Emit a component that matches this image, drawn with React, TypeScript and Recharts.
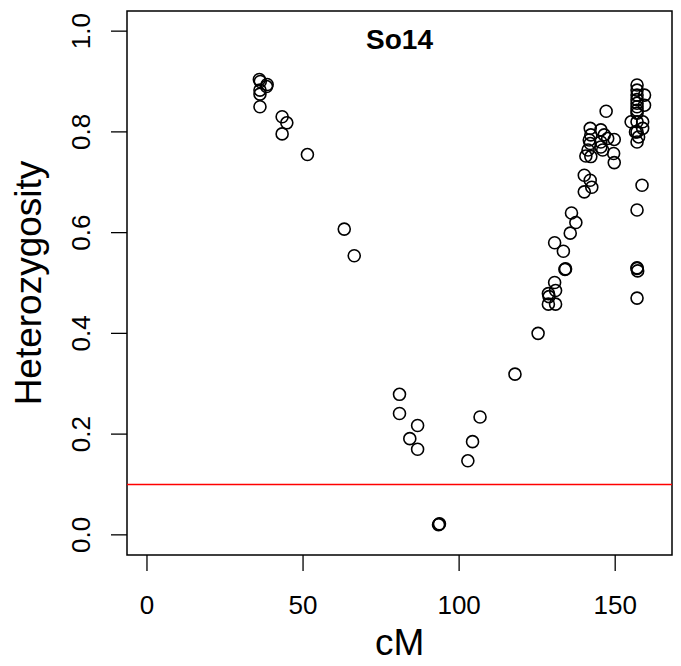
import React from 'react';
import {
    ScatterChart,
    Scatter,
    XAxis,
    YAxis,
    ReferenceLine,
    ReferenceArea,
    Label,
} from 'recharts';

// marker positions (cM) and heterozygosity
const cM = [
    36.0, 36.3, 38.5, 38.3, 36.2, 36.2, 36.2,
    43.3, 44.8, 43.3, 51.4,
    63.2, 66.4,
    80.9, 80.9, 86.7, 84.2, 86.7,
    93.6, 93.4, 93.7,
    102.8, 104.3, 106.7,
    117.9, 125.3,
    128.6, 130.9, 128.8, 128.6, 130.9, 130.6, 133.9, 134.1, 133.4, 130.6, 135.6, 137.4, 136.0,
    140.1, 140.1, 142.0, 142.5,
    142.0, 142.2, 141.7, 142.0, 141.3, 140.6, 142.2,
    145.4, 146.5, 145.4, 147.6, 149.7, 149.5, 149.7, 146.0, 145.4, 147.1,
    157.0, 157.0, 157.0, 157.0, 157.0, 157.0, 157.0, 157.0, 157.0, 157.0, 157.0,
    159.4, 159.4, 158.8, 155.1, 158.8, 156.5, 157.5,
    158.6, 157.0, 157.0, 157.2, 157.0, 157.0,
];
const het = [
    0.904, 0.900, 0.894, 0.890, 0.883, 0.875, 0.850,
    0.830, 0.818, 0.796, 0.755,
    0.607, 0.554,
    0.279, 0.241, 0.217, 0.191, 0.170,
    0.021, 0.020, 0.022,
    0.147, 0.185, 0.234,
    0.319, 0.400,
    0.458, 0.458, 0.473, 0.479, 0.485, 0.501, 0.527, 0.528, 0.563, 0.580, 0.599, 0.620, 0.639,
    0.681, 0.714, 0.704, 0.690,
    0.807, 0.794, 0.784, 0.777, 0.764, 0.752, 0.751,
    0.804, 0.794, 0.780, 0.787, 0.785, 0.757, 0.739, 0.764, 0.770, 0.841,
    0.893, 0.883, 0.873, 0.864, 0.857, 0.850, 0.843, 0.837, 0.820, 0.800, 0.780,
    0.873, 0.853, 0.820, 0.820, 0.807, 0.800, 0.790,
    0.694, 0.645, 0.529, 0.524, 0.530, 0.470,
];
const xTicks = [0, 50, 100, 150];
const yTicks = [0, 0.2, 0.4, 0.6, 0.8, 1.0];
const threshold = 0.1;
const title = 'So14';

const data = cM.map((x, i) => ({ cM: x, het: het[i] }));

const XDOMAIN: [number, number] = [-6.4, 168.2];
const YDOMAIN: [number, number] = [-0.04, 1.04];
const FONT = '"Liberation Sans", Arial, sans-serif';

const XTick = (props: any) => (
    <text x={props.x} y={614} textAnchor="middle" fontSize={26} fontFamily={FONT} fill="#000">
        {props.payload.value}
    </text>
);

const YTick = (props: any) => (
    <text
        x={90}
        y={props.y}
        textAnchor="middle"
        fontSize={26}
        fontFamily={FONT}
        fill="#000"
        transform={`rotate(-90, 90, ${props.y})`}
    >
        {props.payload.value.toFixed(1)}
    </text>
);

const Ring = (props: any) => (
    <circle cx={props.cx} cy={props.cy} r={6} fill="none" stroke="#000" strokeWidth={1.6} />
);

export default function App() {
    return (
        <div style={{ position: 'absolute', left: 0, top: 0, background: '#fff' }}>
            <ScatterChart
                width={681}
                height={666}
                margin={{ top: 11, right: 9, left: 0, bottom: 0 }}
                style={{ fontFamily: FONT }}
            >
                <XAxis
                    type="number"
                    dataKey="cM"
                    domain={XDOMAIN}
                    ticks={xTicks}
                    allowDataOverflow
                    height={111}
                    tickSize={16}
                    tickMargin={0}
                    axisLine={false}
                    tickLine={{ stroke: '#000', strokeWidth: 1.3 }}
                    tick={<XTick />}
                >
                    <Label
                        content={() => (
                            <text x={399.7} y={655} textAnchor="middle" fontSize={37} fontFamily={FONT} fill="#000">
                                cM
                            </text>
                        )}
                    />
                </XAxis>
                <YAxis
                    type="number"
                    dataKey="het"
                    domain={YDOMAIN}
                    ticks={yTicks}
                    allowDataOverflow
                    width={127}
                    tickSize={16}
                    tickMargin={0}
                    axisLine={false}
                    tickLine={{ stroke: '#000', strokeWidth: 1.3 }}
                    tick={<YTick />}
                >
                    <Label
                        content={() => (
                            <text
                                x={41}
                                y={283}
                                textAnchor="middle"
                                fontSize={37}
                                fontFamily={FONT}
                                fill="#000"
                                transform="rotate(-90, 41, 283)"
                            >
                                Heterozygosity
                            </text>
                        )}
                    />
                </YAxis>
                <ReferenceLine y={threshold} stroke="#ff0000" strokeWidth={1.5} />
                <Scatter data={data} shape={<Ring />} isAnimationActive={false} />
                <ReferenceArea
                    x1={XDOMAIN[0]}
                    x2={XDOMAIN[1]}
                    y1={YDOMAIN[0]}
                    y2={YDOMAIN[1]}
                    fill="none"
                    fillOpacity={0}
                    stroke="#000"
                    strokeWidth={1.5}
                    ifOverflow="visible"
                    label={{
                        value: title,
                        position: 'insideTop',
                        offset: 18,
                        fontSize: 28,
                        fontWeight: 'bold',
                        fill: '#000',
                        fontFamily: FONT,
                    }}
                />
            </ScatterChart>
        </div>
    );
}
